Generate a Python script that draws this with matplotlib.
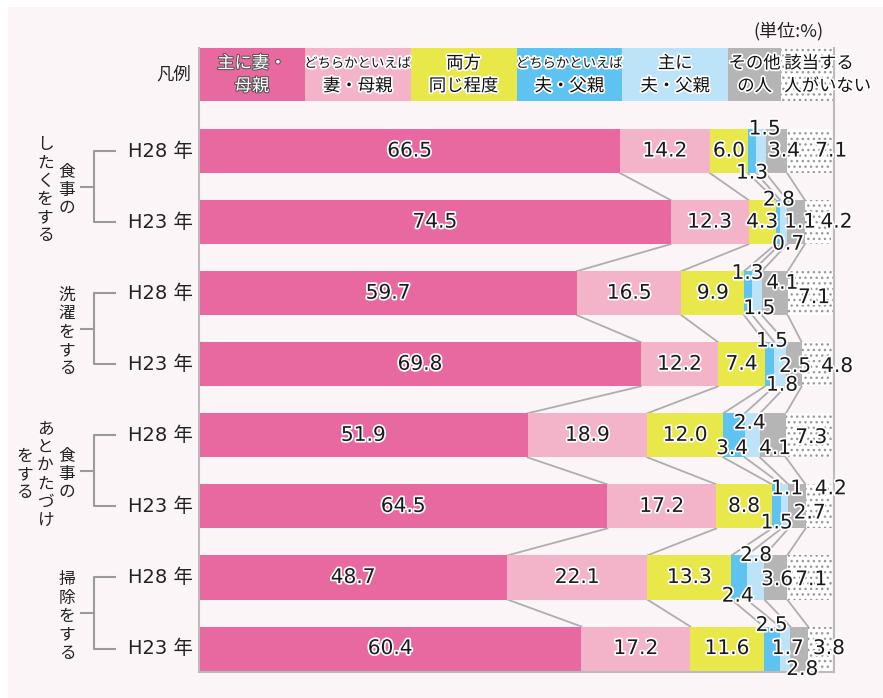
import matplotlib
matplotlib.use("Agg")
import matplotlib.pyplot as plt
import matplotlib.patheffects as pe
from matplotlib.patches import Rectangle
import numpy as np

JP = ["Noto Sans CJK JP", "DejaVu Sans"]
NUM = ["DejaVu Sans", "Noto Sans CJK JP"]

# ---- data -------------------------------------------------------------
groups = [["食事の", "したくをする"], ["洗濯をする"],
          ["食事の", "あとかたづけ", "をする"], ["掃除をする"]]
years = ["H28 年", "H23 年"]
legend_lines = [("主に妻・", "母親"), ("どちらかといえば", "妻・母親"),
                ("両方", "同じ程度"), ("どちらかといえば", "夫・父親"),
                ("主に", "夫・父親"), ("その他", "の人"), ("該当する", "人がいない")]

wife_main = [66.5, 74.5, 59.7, 69.8, 51.9, 64.5, 48.7, 60.4]
wife_rather = [14.2, 12.3, 16.5, 12.2, 18.9, 17.2, 22.1, 17.2]
both = [6.0, 4.3, 9.9, 7.4, 12.0, 8.8, 13.3, 11.6]
husband_rather = [1.3, 0.7, 1.3, 1.5, 3.4, 1.5, 2.4, 2.5]
husband_main = [1.5, 1.1, 1.5, 1.8, 2.4, 1.1, 2.8, 1.7]
other = [3.4, 2.8, 4.1, 2.5, 4.1, 2.7, 3.6, 2.8]
nobody = [7.1, 4.2, 7.1, 4.8, 7.3, 4.2, 7.1, 3.8]

series = [wife_main, wife_rather, both, husband_rather, husband_main, other, nobody]
colors = ["#E8699F", "#F3B3C8", "#E8E84A", "#5EC3F0", "#BDE3F8", "#B5B5B5", "#FFFFFF"]
legend_units = [2, 2, 2, 2, 2, 1, 1]

# label nudges (dx in %, dy in half bar heights, + = up)
zero = [(0, 0)] * 8
shifts = [zero, zero, zero,
          [(0, -1), (1.6, -1), (-0.1, 0.9), (0.35, 1.05), (-0.3, -0.6), (0, -0.75), (-0.2, -0.85), (0, 1.05)],
          [(0.6, 1), (2.6, 0), (0.35, -0.7), (0.3, -0.95), (-0.4, 0.55), (0.35, 0.8), (0.1, 1.0), (0.45, 0)],
          [(1.2, 0), (-2.7, 1), (1.2, 0.45), (0.2, -0.1), (0.35, -0.6), (2.0, -0.3), (0.2, -0.1), (0.5, -0.95)],
          [(3.4, 0), (2.9, 0), (0.6, -0.2), (3.2, -0.1), (0.35, -0.1), (1.9, 0.8), (0.25, -0.1), (1.4, 0)]]

# ---- figure -----------------------------------------------------------
BG = "#FBF5F7"
fig = plt.figure(figsize=(8.83, 6.98), dpi=100, facecolor="white")
fig.patches.append(Rectangle((8 / 883, 0), 1, 1 - 7 / 698, transform=fig.transFigure,
                             facecolor=BG, edgecolor="none", zorder=-10))
ax = fig.add_axes([199 / 883, 26 / 698, 635 / 883, 624 / 698])
ax.set_facecolor(BG)
ax.set_xlim(0, 100.3)
ax.set_ylim(7.33, -1.45)
ax.set_xticks([]); ax.set_yticks([])
ax.spines["top"].set_visible(False)
for s in ("left", "right", "bottom"):
    ax.spines[s].set_color("#BBBBBB")
    ax.spines[s].set_linewidth(1.5)

h = 0.62
vals = np.array(series)
n = vals.shape[1]
ypos = np.arange(n)
lefts = np.vstack([np.zeros(n), np.cumsum(vals, axis=0)[:-1]])

halo = [pe.withStroke(linewidth=2.5, foreground="white")]
for k in range(len(series)):
    hatch = "..." if k == len(series) - 1 else None
    ax.barh(ypos, vals[k], left=lefts[k], height=h, color=colors[k],
            edgecolor="#9A9A9A" if hatch else colors[k], linewidth=0, hatch=hatch, zorder=2)
    for i in range(n):
        dx, dy = shifts[k][i]
        ax.text(lefts[k][i] + vals[k][i] / 2 + dx, i - dy * h / 2, f"{vals[k][i]:.1f}",
                ha="center", va="center", fontsize=14.5, family=NUM,
                color="#1a1a1a", path_effects=halo, zorder=5, clip_on=False)

# connectors between consecutive bars
bounds = np.cumsum(vals, axis=0)[:-1]
for i in range(n - 1):
    for b in range(bounds.shape[0]):
        ax.plot([bounds[b][i], bounds[b][i + 1]], [i + h / 2, i + 1 - h / 2],
                color="#AEAEAE", lw=1.3, zorder=1)

# legend row
edges = np.concatenate([[0], np.cumsum(legend_units)]) / sum(legend_units) * 100.3
for k, (l1, l2) in enumerate(legend_lines):
    hatch = "..." if k == len(series) - 1 else None
    ax.add_patch(Rectangle((edges[k], -1.45), edges[k + 1] - edges[k], 0.747,
                           facecolor=colors[k], edgecolor="#9A9A9A" if hatch else colors[k],
                           linewidth=0, hatch=hatch, zorder=2, clip_on=False))
    if k == 0:
        tc, eff = "white", [pe.withStroke(linewidth=1.5, foreground="#555555")]
    else:
        tc, eff = "#111111", [pe.withStroke(linewidth=2.5, foreground="white")]
    last = k == len(series) - 1
    xt = edges[k] + 0.5 if last else (edges[k] + edges[k + 1]) / 2
    ha = "left" if last else "center"
    for txt, yy in ((l1, -1.235), (l2, -0.915)):
        fs = 9.6 if txt == "どちらかといえば" else 12.5
        ax.text(xt, yy, txt, ha=ha, va="center", fontsize=fs, family=JP, color=tc,
                path_effects=eff, zorder=5, clip_on=False)

ax.text(-1.3, -1.07, "凡例", ha="right", va="center", fontsize=12.5, family=JP, color="#222222")
ax.text(98.6, -1.69, "(単位:%)", ha="right", va="center", fontsize=13, family=JP, color="#222222")

# year labels, brackets and vertical group labels
for i in range(n):
    ax.text(-0.95, i, years[i % 2], ha="right", va="center", fontsize=14, family=NUM,
            color="#222222", clip_on=False)

col_x = [-20.85, -24.3, -27.5]
step = 0.2575
for g, cols in enumerate(groups):
    y0, y1 = 2 * g, 2 * g + 1
    ym = (y0 + y1) / 2
    ax.plot([-13.3, -16.6, -16.6, -13.3], [y0, y0, y1, y1], color="#9A9A9A", lw=1.5, clip_on=False)
    ax.plot([-18.6, -16.6], [ym, ym], color="#9A9A9A", lw=1.5, clip_on=False)
    for c, word in enumerate(cols):
        start = ym + 0.05 - step * (len(word) - 1) / 2
        for j, ch in enumerate(word):
            ax.text(col_x[c], start + j * step, ch, ha="center", va="center",
                    fontsize=12, family=JP, color="#222222", clip_on=False)

fig.savefig("out.png", dpi=100, facecolor=fig.get_facecolor())
